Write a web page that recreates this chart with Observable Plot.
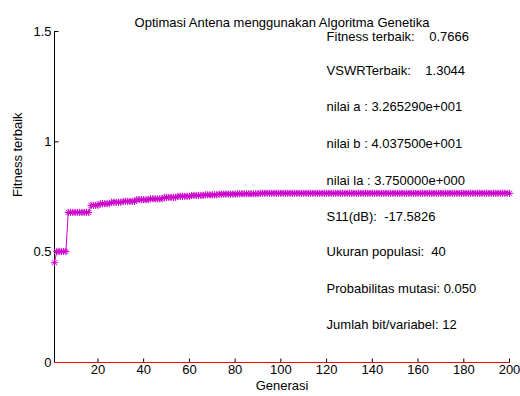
<!DOCTYPE html>
<html><head><meta charset="utf-8">
<script src="https://cdn.jsdelivr.net/npm/d3@7"></script>
<script src="https://cdn.jsdelivr.net/npm/@observablehq/plot@0.6"></script>
<style>
html,body{margin:0;padding:0;background:#fff;}
#chart svg text{white-space:pre;}
</style></head><body><div id="chart"></div>
<script>
const title = "Optimasi Antena menggunakan Algoritma Genetika";
const xLabel = "Generasi";
const yLabel = "Fitness terbaik";
const xTicks = [20, 40, 60, 80, 100, 120, 140, 160, 180, 200];
const yTicks = [0, 0.5, 1, 1.5];
// best fitness per generation (generation 1..200)
const fitness = [
  0.452, 0.503, 0.503, 0.503, 0.503, 0.503, 0.680, 0.680, 0.680, 0.680,
  0.680, 0.680, 0.680, 0.680, 0.680, 0.680, 0.712, 0.712, 0.712, 0.712,
  0.720, 0.720, 0.720, 0.720, 0.720, 0.726, 0.726, 0.726, 0.726, 0.726,
  0.730, 0.730, 0.730, 0.730, 0.730, 0.730, 0.738, 0.738, 0.738, 0.738,
  0.738, 0.738, 0.742, 0.742, 0.742, 0.742, 0.742, 0.742, 0.748, 0.748,
  0.748, 0.748, 0.748, 0.748, 0.753, 0.753, 0.753, 0.753, 0.753, 0.753,
  0.757, 0.757, 0.757, 0.757, 0.757, 0.757, 0.760, 0.760, 0.760, 0.760,
  0.760, 0.760, 0.763, 0.763, 0.763, 0.763, 0.763, 0.763, 0.763, 0.763,
  0.765, 0.765, 0.765, 0.765, 0.765, 0.765, 0.765, 0.765, 0.765, 0.765,
  0.7666, 0.7666, 0.7666, 0.7666, 0.7666, 0.7666, 0.7666, 0.7666, 0.7666, 0.7666,
  0.7666, 0.7666, 0.7666, 0.7666, 0.7666, 0.7666, 0.7666, 0.7666, 0.7666, 0.7666,
  0.7666, 0.7666, 0.7666, 0.7666, 0.7666, 0.7666, 0.7666, 0.7666, 0.7666, 0.7666,
  0.7666, 0.7666, 0.7666, 0.7666, 0.7666, 0.7666, 0.7666, 0.7666, 0.7666, 0.7666,
  0.7666, 0.7666, 0.7666, 0.7666, 0.7666, 0.7666, 0.7666, 0.7666, 0.7666, 0.7666,
  0.7666, 0.7666, 0.7666, 0.7666, 0.7666, 0.7666, 0.7666, 0.7666, 0.7666, 0.7666,
  0.7666, 0.7666, 0.7666, 0.7666, 0.7666, 0.7666, 0.7666, 0.7666, 0.7666, 0.7666,
  0.7666, 0.7666, 0.7666, 0.7666, 0.7666, 0.7666, 0.7666, 0.7666, 0.7666, 0.7666,
  0.7666, 0.7666, 0.7666, 0.7666, 0.7666, 0.7666, 0.7666, 0.7666, 0.7666, 0.7666,
  0.7666, 0.7666, 0.7666, 0.7666, 0.7666, 0.7666, 0.7666, 0.7666, 0.7666, 0.7666,
  0.7666, 0.7666, 0.7666, 0.7666, 0.7666, 0.7666, 0.7666, 0.7666, 0.7666, 0.7666
];
const baseline = [0, 0]; // red series at zero
const baselineX = [1, 200];
const infoLabels = [
  "Fitness terbaik:    0.7666",
  "VSWRTerbaik:    1.3044",
  "nilai a : 3.265290e+001",
  "nilai b : 4.037500e+001",
  "nilai la : 3.750000e+000",
  "S11(dB):  -17.5826",
  "Ukuran populasi:  40",
  "Probabilitas mutasi: 0.050",
  "Jumlah bit/variabel: 12"
];
const infoY = [1.474, 1.323, 1.157, 0.991, 0.825, 0.662, 0.500, 0.334, 0.171];
const infoX = 120;

const gens = fitness.map((v, i) => ({gen: i + 1, fit: v}));
const info = infoLabels.map((t, i) => ({t, y: infoY[i]}));
const base = baselineX.map((x, i) => ({x, y: baseline[i]}));

const FONT = "'Liberation Sans', Arial, Helvetica, sans-serif";
const MAG = "#cc00cc";

// MATLAB-like '*' marker: plus + cross
const star = {draw(ctx, size) {
  const r = Math.sqrt(size / Math.PI), d = r * 0.72;
  ctx.moveTo(0, -r); ctx.lineTo(0, r);
  ctx.moveTo(-r, 0); ctx.lineTo(r, 0);
  ctx.moveTo(-d, -d); ctx.lineTo(d, d);
  ctx.moveTo(-d, d); ctx.lineTo(d, -d);
}};
// inward tick marks
const tickUp = {draw(ctx) { ctx.moveTo(0, 0); ctx.lineTo(0, -4); }};
const tickRight = {draw(ctx) { ctx.moveTo(0, 0); ctx.lineTo(4, 0); }};

const chart = Plot.plot({
  width: 520,
  height: 396,
  marginLeft: 54,
  marginRight: 11,
  marginTop: 31,
  marginBottom: 34,
  style: {fontFamily: FONT, fontSize: "13px", background: "#fff", color: "#000"},
  x: {domain: [1, 200]},
  y: {domain: [0, 1.5]},
  marks: [
    Plot.axisX({ticks: xTicks, tickSize: 0, tickPadding: 2, label: null, fontSize: 13, tickFormat: d => `${d}`}),
    Plot.axisY({ticks: yTicks, tickSize: 0, tickPadding: 3, label: null, fontSize: 13, tickFormat: d => `${d}`}),
    Plot.dot(xTicks, {x: d => d, y: () => 0, symbol: tickUp, r: 4, stroke: "#000", strokeWidth: 1}),
    Plot.dot(yTicks, {x: () => 1, y: d => d, symbol: tickRight, r: 4, stroke: "#000", strokeWidth: 1}),
    Plot.ruleX([1], {stroke: "#000"}),
    Plot.line(base, {x: "x", y: "y", stroke: "#ff0000", strokeWidth: 1.2}),
    Plot.line(gens, {x: "gen", y: "fit", stroke: MAG, strokeWidth: 1}),
    Plot.dot(gens, {x: "gen", y: "fit", symbol: star, r: 3.6, stroke: MAG, strokeWidth: 1}),
    Plot.text(info, {x: () => infoX, y: "y", text: "t", textAnchor: "start", fill: "#000", fontSize: 13}),
    Plot.text([title], {frameAnchor: "top", dy: -14, fontSize: 13, fill: "#000"}),
    Plot.text([xLabel], {frameAnchor: "bottom", dy: 27, fontSize: 13, fill: "#000"}),
    Plot.text([yLabel], {frameAnchor: "left", dx: -37, rotate: -90, fontSize: 13, fill: "#000"})
  ]
});
document.getElementById("chart").appendChild(chart);
</script>
</body></html>
